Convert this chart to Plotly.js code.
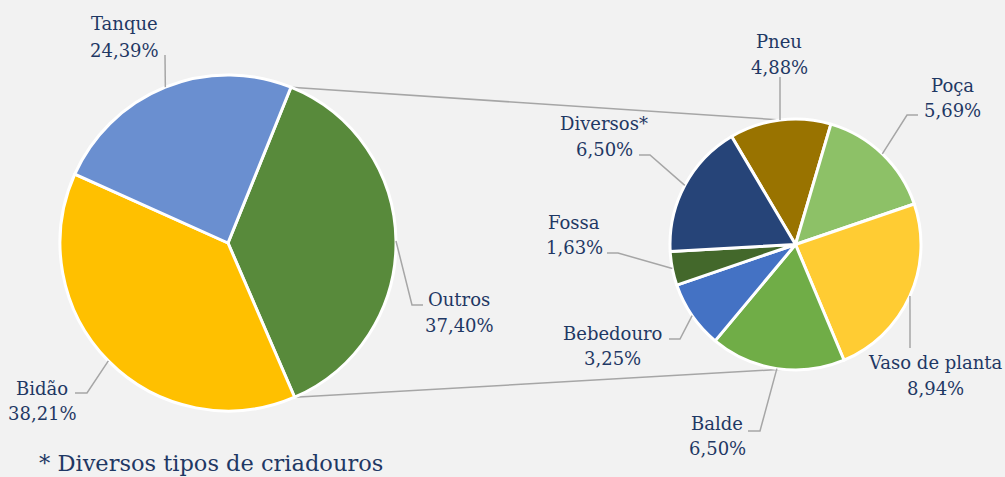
<!DOCTYPE html>
<html>
<head>
<meta charset="utf-8">
<script src="https://cdn.plot.ly/plotly-3.0.1.min.js"></script>
<style>
  html, body { margin: 0; padding: 0; background: #F2F2F2; }
  #chart { width: 1005px; height: 477px; }
</style>
</head>
<body>
<div id="chart"></div>
<script>
// ---- data ----
const mainLabels = ['Outros', 'Bidão', 'Tanque'];
const mainValues = [37.40, 38.21, 24.39];
const subLabels = ['Pneu', 'Poça', 'Vaso de planta', 'Balde', 'Bebedouro', 'Fossa', 'Diversos*'];
const subValues = [4.88, 5.69, 8.94, 6.50, 3.25, 1.63, 6.50];
const footnote = '* Diversos tipos de criadouros';

// ---- styles ----
const mainColors = ['#588A3B', '#FFC000', '#6A8FD0'];
const subColors = ['#997300', '#8DC167', '#FFCC33', '#70AD47', '#4472C4', '#43682B', '#264478'];
const textColor = '#1F3864';
const leaderColor = '#A6A6A6';
const FONT = 'DejaVu Serif, Liberation Serif, serif';
const LABEL_SIZE = 18;
const W = 1005, H = 477;

// ---- geometry (pixels) ----
const mainPie = {cx: 228, cy: 243, r: 168, rot: 22};
const subPie = {cx: 795.5, cy: 244.5, r: 125.5, rot: -30.6};

// label placement: [centerX, nameY, valueY, kneeX, kneeY, endX, endY]
const mainLabelPos = [
  [459, 299, 325, 412, 305, 423, 305],
  [42, 388, 413, 87, 393, 75, 393],
  [124, 24, 50, 165, 55, 165, 55]
];
const subLabelPos = [
  [779, 41, 67, 780, 77, 780, 77],
  [952, 85, 110, 907, 115, 918, 115],
  [935, 362, 388, 910, 348, 910, 348],
  [717, 423, 448, 760, 431, 748, 431],
  [612, 333, 358, 680, 339, 669, 339],
  [574, 222, 248, 618, 253, 607, 253],
  [604, 124, 149, 650, 155, 639, 155]
];

const PX = x => x / W;
const PY = y => 1 - y / H;

function domainOf(p) {
  return {x: [PX(p.cx - p.r), PX(p.cx + p.r)], y: [PY(p.cy + p.r), PY(p.cy - p.r)]};
}

// angle helpers (degrees clockwise from 12 o'clock)
function sliceAngles(values, rot) {
  const total = values.reduce((a, b) => a + b, 0);
  let a = rot;
  return values.map(v => {
    const s = a; const e = a + v / total * 360; a = e;
    return {s, e, m: (s + e) / 2};
  });
}
function edgePoint(p, deg) {
  const t = deg * Math.PI / 180;
  return [p.cx + p.r * Math.sin(t), p.cy - p.r * Math.cos(t)];
}
const fmt = v => v.toFixed(2).replace('.', ',') + '%';

const traces = [
  {
    type: 'pie', labels: mainLabels, values: mainValues, sort: false,
    direction: 'clockwise', rotation: mainPie.rot, textinfo: 'none',
    hoverinfo: 'label+percent', showlegend: false,
    marker: {colors: mainColors, line: {color: '#FFFFFF', width: 3}},
    domain: domainOf(mainPie)
  },
  {
    type: 'pie', labels: subLabels, values: subValues, sort: false,
    direction: 'clockwise', rotation: subPie.rot, textinfo: 'none',
    hoverinfo: 'label+value', showlegend: false,
    marker: {colors: subColors, line: {color: '#FFFFFF', width: 3}},
    domain: domainOf(subPie)
  }
];

const annotations = [];
const shapes = [];

function addLabels(p, labels, values, pos) {
  const ang = sliceAngles(values, p.rot);
  labels.forEach((lab, i) => {
    const [cx, ny, vy, kx, ky, ex, ey] = pos[i];
    annotations.push({xref: 'paper', yref: 'paper', x: PX(cx), y: PY(ny), text: lab,
      showarrow: false, xanchor: 'center', yanchor: 'middle',
      font: {family: FONT, size: LABEL_SIZE, color: textColor}});
    annotations.push({xref: 'paper', yref: 'paper', x: PX(cx), y: PY(vy), text: fmt(values[i]),
      showarrow: false, xanchor: 'center', yanchor: 'middle',
      font: {family: FONT, size: LABEL_SIZE, color: textColor}});
    const [sx, sy] = edgePoint(p, ang[i].m);
    shapes.push({type: 'path', xref: 'paper', yref: 'paper',
      path: `M ${PX(sx)} ${PY(sy)} L ${PX(kx)} ${PY(ky)} L ${PX(ex)} ${PY(ey)}`,
      line: {color: leaderColor, width: 1.5}});
  });
}
addLabels(mainPie, mainLabels, mainValues, mainLabelPos);
addLabels(subPie, subLabels, subValues, subLabelPos);

// connector lines from the "Outros" slice boundaries to the second pie
const outAng = sliceAngles(mainValues, mainPie.rot)[0];
const [t0x, t0y] = edgePoint(mainPie, outAng.s);
const [b0x, b0y] = edgePoint(mainPie, outAng.e);
const [t1x, t1y] = edgePoint(subPie, -7);
const [b1x, b1y] = edgePoint(subPie, 186);
shapes.push({type: 'line', xref: 'paper', yref: 'paper', x0: PX(t0x), y0: PY(t0y), x1: PX(t1x), y1: PY(t1y),
  line: {color: leaderColor, width: 1.5}, layer: 'below'});
shapes.push({type: 'line', xref: 'paper', yref: 'paper', x0: PX(b0x), y0: PY(b0y), x1: PX(b1x), y1: PY(b1y),
  line: {color: leaderColor, width: 1.5}, layer: 'below'});

annotations.push({xref: 'paper', yref: 'paper', x: PX(37), y: PY(463), text: footnote,
  showarrow: false, xanchor: 'left', yanchor: 'middle',
  font: {family: FONT, size: 22.5, color: textColor}});

const layout = {
  width: W, height: H,
  margin: {l: 0, r: 0, t: 0, b: 0},
  paper_bgcolor: '#F2F2F2', plot_bgcolor: '#F2F2F2',
  showlegend: false,
  annotations, shapes
};

Plotly.newPlot('chart', traces, layout, {displayModeBar: false, staticPlot: true});
</script>
</body>
</html>
